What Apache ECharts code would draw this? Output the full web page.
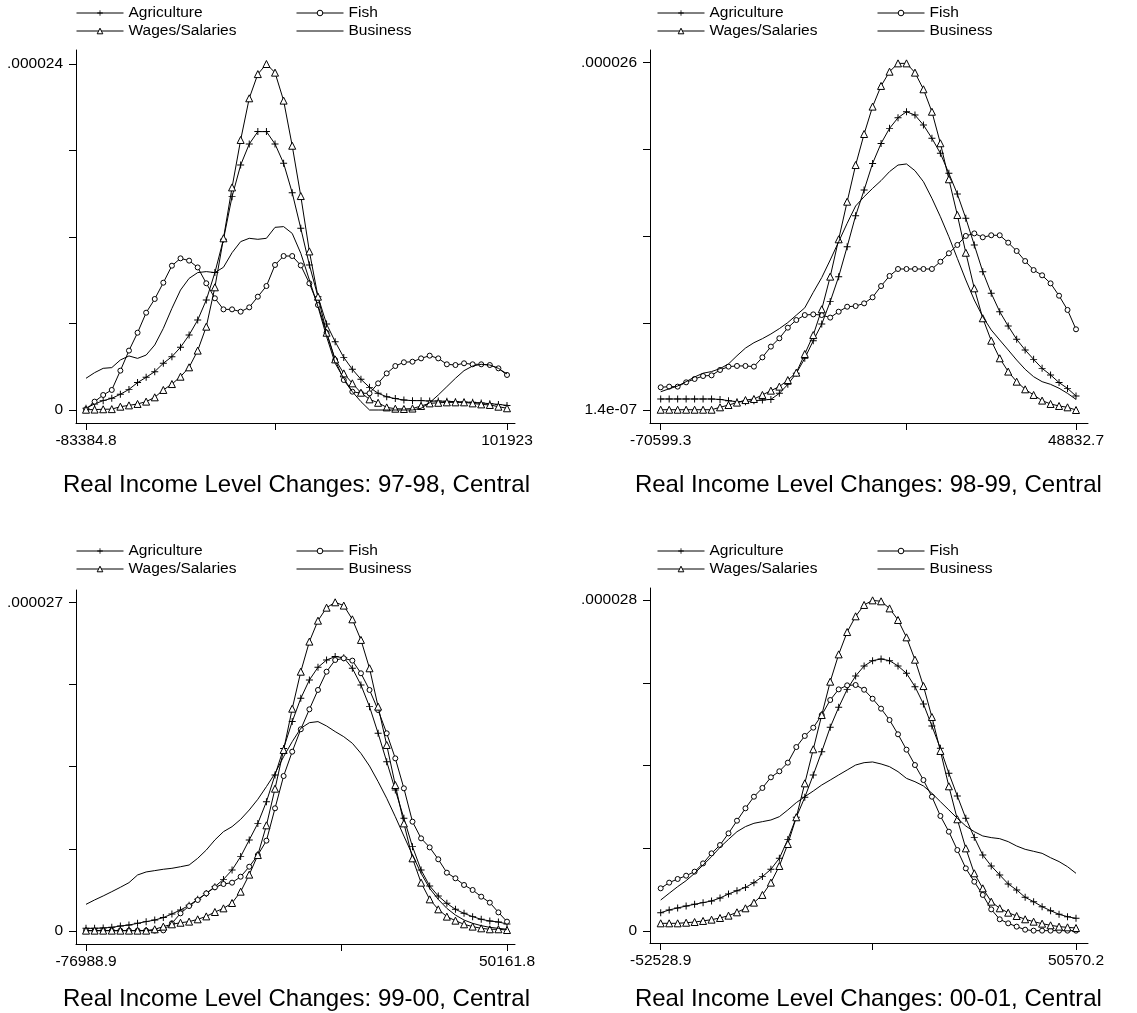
<!DOCTYPE html>
<html>
<head>
<meta charset="utf-8">
<script src="https://cdn.jsdelivr.net/npm/echarts@6/dist/echarts.min.js"></script>
<style>
  html, body { margin: 0; padding: 0; background: #fff; }
  #chart { width: 1137px; height: 1013px; }
</style>
</head>
<body>
<div id="chart"></div>
<script>
// kernel densities, 50 evaluation points per panel, values in units of 1e-6
const seriesNames = ['Agriculture', 'Fish', 'Wages/Salaries', 'Business'];
const panelTitles = [
  'Real Income Level Changes: 97-98, Central',
  'Real Income Level Changes: 98-99, Central',
  'Real Income Level Changes: 99-00, Central',
  'Real Income Level Changes: 00-01, Central'
];
const xMin = [-83384.8, -70599.3, -76988.9, -52528.9];
const xMax = [101923, 48832.7, 50161.8, 50570.2];
const xTickLabels = [['-83384.8', '101923'], ['-70599.3', '48832.7'], ['-76988.9', '50161.8'], ['-52528.9', '50570.2']];
const yMin = [0, 0.14, 0, 0];
const yMax = [24, 26, 27, 28];
const yTickLabels = [['0', '.000024'], ['1.4e-07', '.000026'], ['0', '.000027'], ['0', '.000028']];

// 97-98
const agri9798 = [0.12,0.42,0.65,0.81,1.09,1.43,1.9,2.27,2.66,3.24, 3.7,4.35,5.2,6.24,7.63,9.53,11.84,14.8,16.99,18.45, 19.31,19.31,18.45,17.11,15.07,12.6,10.06,7.86,5.96,4.74, 3.65,2.82,2.13,1.57,1.16,0.92,0.79,0.69,0.65,0.65, 0.62,0.62,0.6,0.58,0.55,0.53,0.49,0.44,0.39,0.32];
const fish9798 = [0.05,0.58,1.04,1.39,2.73,4.12,5.36,6.75,7.7,8.83, 10.01,10.52,10.36,9.89,8.79,7.75,6.98,6.98,6.82,7.12, 7.86,8.6,10.06,10.68,10.68,10.03,8.79,7.28,5.36,3.47, 2.08,1.27,1.16,1.16,1.85,2.54,3.05,3.31,3.35,3.58, 3.77,3.58,3.17,3.12,3.24,3.17,3.17,3.12,2.89,2.43];
const wage9798 = [0.02,0.03,0.05,0.06,0.23,0.32,0.42,0.58,0.88,1.39, 1.8,2.31,2.96,4.12,5.78,8.51,11.91,15.44,18.73,21.62, 23.3,24.0,23.4,21.46,18.33,14.84,11.0,7.86,5.36,3.51, 2.54,1.85,1.2,0.74,0.5,0.18,0.09,0.07,0.1,0.28, 0.46,0.5,0.53,0.53,0.53,0.46,0.39,0.35,0.23,0.12];
const busi9798 = [2.2,2.59,2.89,2.94,3.47,3.75,3.58,3.81,4.51,5.66, 7.05,8.32,9.13,9.53,9.6,9.53,9.9,10.91,11.68,11.91, 11.84,11.91,12.67,12.72,12.25,10.87,9.02,7.17,5.09,3.24, 2.2,1.27,0.58,0,0,0,0,0,0,0.12, 0.51,1.04,1.62,2.2,2.73,3.05,3.17,3.12,2.89,2.5];

// 98-99
const agri9899 = [0.96,0.96,0.96,0.96,0.96,0.96,0.96,0.93,0.83,0.76, 0.76,0.83,0.88,0.93,1.38,2.05,2.87,3.99,5.3,6.54, 8.21,10.07,12.3,14.61,16.52,18.5,19.99,21.11,21.9,22.35, 22.1,21.36,20.37,19.25,17.76,16.22,14.41,12.43,10.44,8.83, 7.46,6.39,5.4,4.61,3.91,3.24,2.75,2.18,1.75,1.18];
const fish9899 = [1.83,1.88,1.88,2.2,2.45,2.67,2.72,3.12,3.37,3.42, 3.42,3.37,4.06,4.86,5.48,6.27,6.84,7.21,7.26,7.21, 7.02,7.46,7.83,7.88,8.08,8.53,9.37,10.12,10.64,10.64, 10.64,10.64,10.64,11.18,11.81,12.43,13.1,13.29,13.0,13.15, 13.15,12.6,11.98,11.23,10.56,10.17,9.57,8.65,7.59,6.15];
const wage9899 = [0.16,0.16,0.16,0.16,0.16,0.16,0.16,0.34,0.51,0.69, 0.88,0.96,1.26,1.58,1.88,2.37,2.92,4.31,5.72,7.64, 10.07,12.85,15.65,18.38,20.69,22.73,24.27,25.33,25.95,25.95, 25.26,24.02,22.35,20.0,17.32,14.66,11.85,9.2,6.97,5.3, 3.99,3.0,2.25,1.68,1.26,0.84,0.59,0.44,0.34,0.14];
const busi9899 = [1.5,1.72,1.93,2.25,2.6,2.88,3.0,3.22,3.57,4.18, 4.75,5.15,5.45,5.8,6.2,6.65,7.2,7.75,8.9,10.0, 11.31,12.67,14.04,15.33,16.02,16.64,17.22,17.89,18.38,18.46, 17.96,17.14,15.9,14.53,13.04,11.43,9.82,8.33,7.09,6.1, 5.35,4.61,3.86,3.17,2.62,2.25,2.05,1.76,1.38,0.93];

// 99-00
const agri9900 = [0.22,0.22,0.25,0.3,0.41,0.49,0.63,0.77,0.9,1.1, 1.4,1.73,2.11,2.6,3.09,3.64,4.24,5.01,6.11,7.48, 8.84,10.62,12.82,15.0,17.2,19.11,20.62,21.66,22.26,22.54, 22.45,21.58,20.21,18.43,16.24,13.91,11.58,9.26,6.93,5.01, 3.7,2.88,2.27,1.78,1.45,1.18,0.96,0.82,0.74,0.58];
const fish9900 = [0.03,0.03,0.03,0.03,0.03,0.03,0.03,0.03,0.03,0.05, 0.63,1.45,2.05,2.55,3.09,3.59,3.86,3.97,4.46,5.28, 6.24,7.42,10.08,12.73,14.73,16.57,18.21,19.8,21.3,22.26, 22.4,22.21,21.17,19.8,18.15,16.24,14.18,11.72,8.98,7.61, 6.87,5.89,4.79,4.33,3.78,3.37,2.82,2.33,1.53,0.77];
const wage9900 = [0.03,0.03,0.03,0.03,0.03,0.03,0.03,0.03,0.14,0.36, 0.55,0.68,0.77,0.96,1.2,1.56,1.86,2.3,3.23,4.63, 6.24,8.68,11.69,14.87,18.26,21.3,23.77,25.49,26.56,27.0, 26.73,25.6,23.91,21.58,18.43,15.28,11.99,8.84,5.97,3.97, 2.6,1.78,1.18,0.85,0.55,0.36,0.22,0.14,0.14,0.08];
const busi9900 = [2.19,2.55,2.88,3.23,3.59,3.97,4.6,4.85,4.96,5.07, 5.15,5.28,5.42,5.97,6.65,7.48,8.16,8.57,9.17,9.94, 10.82,11.86,12.95,14.32,15.55,16.65,17.11,17.2,16.84,16.38, 15.96,15.42,14.59,13.55,12.27,10.9,9.39,7.8,6.24,4.74, 3.5,2.6,1.86,1.31,0.9,0.63,0.44,0.3,0.22,0.14];

// 00-01
const agri0001 = [1.55,1.78,1.95,2.11,2.26,2.4,2.54,2.79,3.13,3.41, 3.69,4.09,4.6,5.22,6.15,7.75,9.62,11.31,13.2,15.17, 17.23,18.92,20.44,21.57,22.42,22.87,23.01,22.87,22.42,21.8, 20.67,19.2,17.34,15.45,13.34,11.42,9.53,7.92,6.43,5.5, 4.74,3.98,3.47,2.85,2.48,2.06,1.72,1.41,1.21,1.07];
const fish0001 = [3.61,4.09,4.4,4.68,5.02,5.72,6.57,7.27,8.26,9.33, 10.38,11.36,12.1,13.0,13.51,14.24,15.56,16.5,17.2,18.27, 19.54,20.44,20.78,20.81,20.41,19.65,18.81,17.85,16.64,15.34, 14.04,12.77,11.36,9.73,8.4,6.85,5.3,4.17,3.05,1.83, 0.99,0.65,0.37,0.11,0.03,0.03,0.03,0.03,0.03,0.03];
const wage0001 = [0.65,0.65,0.65,0.7,0.76,0.85,0.96,1.1,1.3,1.58, 1.92,2.4,3.05,4.09,5.5,7.36,9.62,12.49,15.37,18.27, 21.09,23.4,25.29,26.62,27.58,27.97,27.89,27.29,26.31,24.84, 22.95,20.72,18.1,15.23,12.24,9.45,6.99,4.88,3.61,2.48, 1.92,1.55,1.27,0.99,0.79,0.62,0.48,0.37,0.31,0.25];
const busi0001 = [2.62,3.19,3.75,4.26,4.88,5.58,6.29,7.08,7.75,8.4, 8.83,9.11,9.25,9.39,9.67,10.24,10.86,11.36,11.84,12.35, 12.77,13.2,13.62,14.04,14.24,14.3,14.13,13.9,13.48,12.91, 12.63,12.27,11.65,10.94,10.24,9.53,8.88,8.4,8.04,7.9, 7.81,7.56,7.19,6.91,6.74,6.57,6.2,5.87,5.44,4.88];

const panelData = [
  [agri9798, fish9798, wage9798, busi9798],
  [agri9899, fish9899, wage9899, busi9899],
  [agri9900, fish9900, wage9900, busi9900],
  [agri0001, fish0001, wage0001, busi0001]
];

// layout of each panel in px: axis frame, data extent, legend origin, title y
const frames = [
  { l: 76, r: 515, t: 50, b: 423, dl: 86, dr: 507, dt: 64, db: 410, legX: 76, legY: 13, titleY: 486 },
  { l: 650, r: 1088, t: 50, b: 423, dl: 660.7, dr: 1076, dt: 62.7, db: 410, legX: 657, legY: 13, titleY: 486 },
  { l: 76, r: 515, t: 590, b: 944, dl: 86, dr: 507, dt: 602.3, db: 931, legX: 76, legY: 551, titleY: 1000 },
  { l: 650, r: 1088, t: 588, b: 943, dl: 660.7, dr: 1076, dt: 600, db: 931, legX: 657, legY: 551, titleY: 1000 }
];

const FONT = '"Liberation Sans", Arial, Helvetica, sans-serif';
const INK = '#000';

const plusPath = 'path://M4.3,0H5.7V4.3H10V5.7H5.7V10H4.3V5.7H0V4.3H4.3Z';
const markerStyles = [
  { symbol: plusPath, symbolSize: 7, itemStyle: { color: INK, borderWidth: 0 } },
  { symbol: 'circle', symbolSize: 5, itemStyle: { color: '#fff', borderColor: INK, borderWidth: 1 } },
  { symbol: 'triangle', symbolSize: 7, itemStyle: { color: '#fff', borderColor: INK, borderWidth: 1 } },
  { symbol: 'none', symbolSize: 0, itemStyle: { color: 'rgba(0,0,0,0)', borderWidth: 0 } }
];

const grids = [], xAxes = [], yAxes = [], series = [], legends = [], titles = [];

frames.forEach((f, k) => {
  const xs = (xMax[k] - xMin[k]) / (f.dr - f.dl);
  const ys = (yMax[k] - yMin[k]) / (f.db - f.dt);
  const yStep = (yMax[k] - yMin[k]) / 4;
  const yTicks = [0, 1, 2, 3, 4].map(j => yMin[k] + j * yStep);

  grids.push({ left: f.l, top: f.t, width: f.r - f.l, height: f.b - f.t });

  xAxes.push({
    gridIndex: k,
    type: 'value',
    min: xMin[k] - (f.dl - f.l) * xs,
    max: xMax[k] + (f.r - f.dr) * xs,
    axisLine: { show: true, onZero: false, lineStyle: { color: INK, width: 1 } },
    axisTick: { show: true, length: 7, customValues: [xMin[k], 0, xMax[k]], lineStyle: { color: INK, width: 1 } },
    axisLabel: {
      customValues: [xMin[k], xMax[k]],
      formatter: v => (Math.abs(v - xMin[k]) < 1e-6 ? xTickLabels[k][0] : xTickLabels[k][1]),
      color: INK, fontSize: 15.5, fontFamily: FONT, margin: 10
    },
    splitLine: { show: false }
  });

  yAxes.push({
    gridIndex: k,
    type: 'value',
    min: yMin[k] - (f.b - f.db) * ys,
    max: yMax[k] + (f.dt - f.t) * ys,
    axisLine: { show: true, onZero: false, lineStyle: { color: INK, width: 1 } },
    axisTick: { show: true, length: 7, customValues: yTicks, lineStyle: { color: INK, width: 1 } },
    axisLabel: {
      customValues: [yMin[k], yMax[k]],
      formatter: v => (Math.abs(v - yMin[k]) < 1e-9 ? yTickLabels[k][0] : yTickLabels[k][1]),
      color: INK, fontSize: 15.5, fontFamily: FONT, margin: 13
    },
    splitLine: { show: false }
  });

  panelData[k].forEach((vals, s) => {
    const step = (xMax[k] - xMin[k]) / (vals.length - 1);
    const m = markerStyles[s];
    series.push({
      name: seriesNames[s],
      type: 'line',
      xAxisIndex: k,
      yAxisIndex: k,
      data: vals.map((v, i) => [xMin[k] + i * step, v]),
      symbol: m.symbol,
      symbolSize: m.symbolSize,
      showSymbol: m.symbol !== 'none',
      itemStyle: m.itemStyle,
      lineStyle: { color: INK, width: 1 },
      silent: true,
      animation: false,
      z: 2 + s
    });
  });

  // legend: 2 x 2 block, one component per entry
  seriesNames.forEach((name, s) => {
    const col = s % 2, row = Math.floor(s / 2);
    legends.push({
      data: [name],
      left: f.legX + col * 220,
      top: f.legY + row * 18 - 8,
      padding: 0,
      itemWidth: 47,
      itemHeight: 7,
      itemGap: 0,
      selectedMode: false,
      itemStyle: markerStyles[s].itemStyle,
      lineStyle: { color: INK, width: 1 },
      textStyle: { color: INK, fontSize: 15.5, fontFamily: FONT, padding: [0, 0, 0, 0] }
    });
  });

  titles.push({
    text: panelTitles[k],
    left: (f.dl + f.dr) / 2,
    top: f.titleY - 13,
    textAlign: 'center',
    padding: 0,
    textStyle: { color: INK, fontSize: 24, fontWeight: 'normal', fontFamily: FONT }
  });
});

const chart = echarts.init(document.getElementById('chart'), null, { renderer: 'canvas' });
chart.setOption({
  backgroundColor: '#fff',
  animation: false,
  title: titles,
  legend: legends,
  grid: grids,
  xAxis: xAxes,
  yAxis: yAxes,
  series: series
});
</script>
</body>
</html>
